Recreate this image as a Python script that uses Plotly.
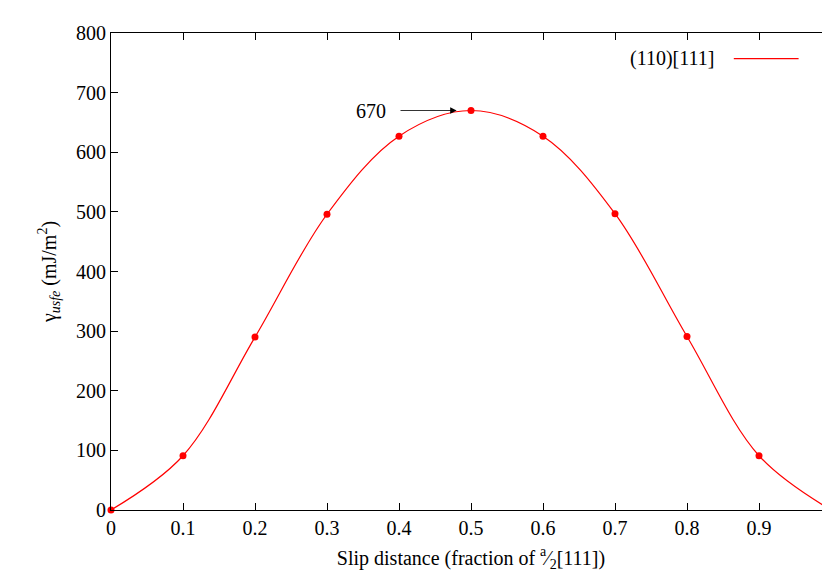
import plotly.graph_objects as go

x = [0, 0.1, 0.2, 0.3, 0.4, 0.5, 0.6, 0.7, 0.8, 0.9, 1.0]
y = [0, 91, 290, 496, 627, 670, 627, 497, 291, 91, 0]
xticks = [0, 0.1, 0.2, 0.3, 0.4, 0.5, 0.6, 0.7, 0.8, 0.9, 1]
xticklabels = ["0", "0.1", "0.2", "0.3", "0.4", "0.5", "0.6", "0.7", "0.8", "0.9", "1"]
yticks = [0, 100, 200, 300, 400, 500, 600, 700, 800]
series_name = "(110)[111]"
peak_label = "670"

font = dict(family="Liberation Serif, DejaVu Serif, serif", size=20, color="black")
fig = go.Figure()
fig.add_trace(go.Scatter(x=x, y=y, mode="lines", line=dict(color="red", width=1.2, shape="spline", smoothing=1.0),
                         showlegend=False, hoverinfo="skip", cliponaxis=False))
fig.add_trace(go.Scatter(x=x, y=y, mode="markers", marker=dict(color="red", size=7),
                         showlegend=False, cliponaxis=False))
axis = dict(showline=True, linecolor="black", linewidth=1, mirror="allticks", ticks="inside",
            ticklen=7, tickcolor="black", showgrid=False, zeroline=False, tickfont=font, automargin=False)
fig.update_layout(
    width=830, height=581, plot_bgcolor="white", paper_bgcolor="white", font=font,
    margin=dict(l=103, r=7, t=25, b=79),
    xaxis=dict(axis, range=[0, 1], tickvals=xticks, ticktext=xticklabels,
               title=dict(text="Slip distance (fraction of <sup>a</sup>⁄<sub>2</sub>[111])", font=font, standoff=12)),
    yaxis=dict(axis, range=[0, 800], tickvals=yticks,
               title=dict(text="γ<sub><i>usfe</i></sub> (mJ/m<sup>2</sup>)", font=font, standoff=14)),
)
fig.add_annotation(x=0.48, y=y[5], ax=0.4, ay=y[5], xref="x", yref="y", axref="x", ayref="y",
                   text="", showarrow=True, arrowhead=2, arrowsize=1.6, arrowwidth=0.8, arrowcolor="black")
fig.add_annotation(x=0.385, y=y[5], xref="x", yref="y", text=peak_label, showarrow=False,
                   xanchor="right", font=font)
fig.add_annotation(x=0.84, y=757, xref="x", yref="y", text=series_name, showarrow=False,
                   xanchor="right", font=font)
fig.add_shape(type="line", x0=0.865, x1=0.955, y0=757, y1=757, xref="x", yref="y",
              line=dict(color="red", width=1.2))
fig.write_html("out.html")
